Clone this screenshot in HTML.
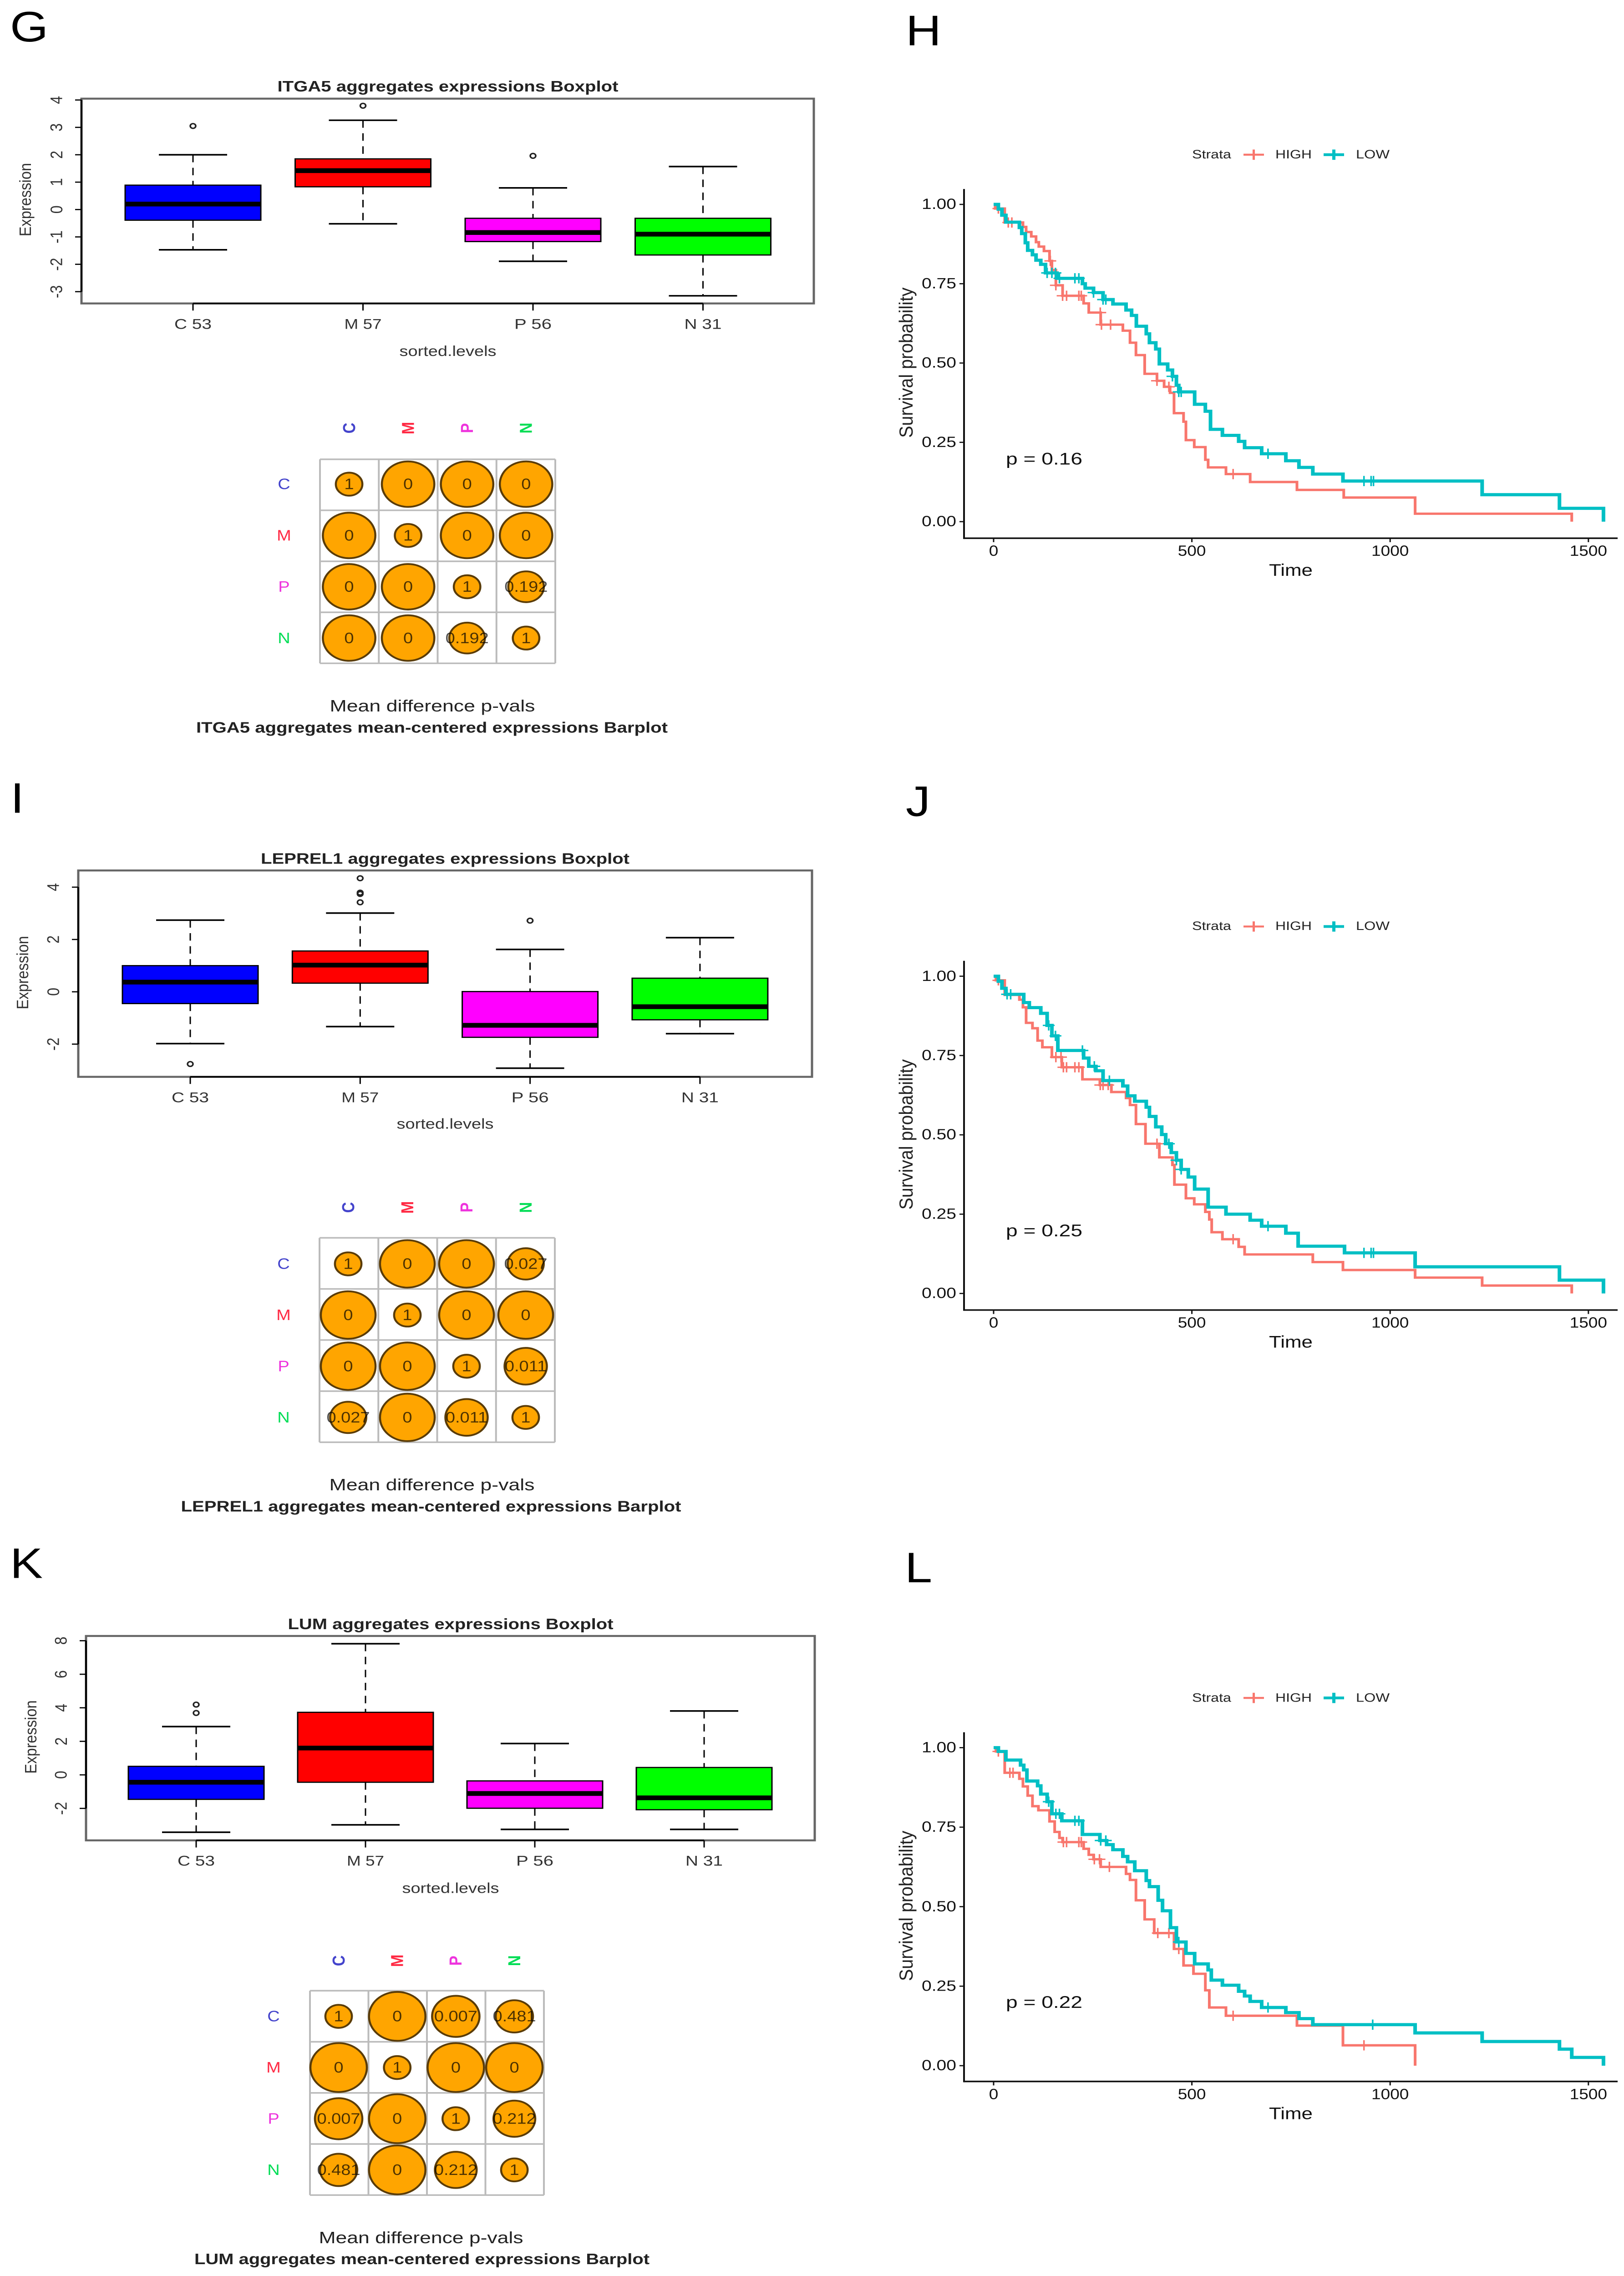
<!DOCTYPE html>
<html lang="en">
<head>
<meta charset="utf-8">
<title>Expression boxplots and survival curves</title>
<style>
html,body{margin:0;padding:0;background:#fff;width:100%;height:100%;overflow:hidden;}
svg{display:block;width:100vw;height:100vh;}
text{font-family:"Liberation Sans",sans-serif;dominant-baseline:central;}
.panel-letter{font-size:108px;fill:#000;dominant-baseline:auto;}
.box-title{font-size:38px;font-weight:bold;fill:#222;text-anchor:middle;}
.box-axis{font-size:36px;fill:#333;text-anchor:middle;}
.dot-sub{font-size:42px;fill:#222;text-anchor:middle;}
.dot-title{font-size:38px;font-weight:bold;fill:#222;text-anchor:middle;}
.km-axis{font-size:43px;fill:#111;text-anchor:middle;}
.km-y{font-size:42px;fill:#222;text-anchor:middle;}
.km-legend{font-size:31px;fill:#222;}
.km-p{font-size:43px;fill:#111;}
</style>
</head>
<body>
<svg id="figure" xmlns="http://www.w3.org/2000/svg" viewBox="0 0 3568 5768" preserveAspectRatio="none">
<rect x="0" y="0" width="3568" height="5768" fill="#fff"/>

<text class="panel-letter" x="22" y="105">G</text>
<text class="panel-letter" x="1990" y="115">H</text>
<text class="panel-letter" x="23" y="2060">I</text>
<text class="panel-letter" x="1990" y="2068">J</text>
<text class="panel-letter" x="22" y="3999">K</text>
<text class="panel-letter" x="1988" y="4010">L</text>

<g id="box-g">
  <text class="box-title" x="984" y="219" textLength="749" lengthAdjust="spacingAndGlyphs">ITGA5 aggregates expressions Boxplot</text>
  <text class="box-axis" x="984" y="891" textLength="213" lengthAdjust="spacingAndGlyphs">sorted.levels</text>
  <text class="box-axis" x="57" y="506" transform="rotate(-90 57 506)" textLength="186" lengthAdjust="spacingAndGlyphs">Expression</text>
</g>
<g id="dot-g">
  <text class="dot-sub" x="950" y="1789" textLength="451" lengthAdjust="spacingAndGlyphs">Mean difference p-vals</text>
  <text class="dot-title" x="949" y="1844" textLength="1036" lengthAdjust="spacingAndGlyphs">ITGA5 aggregates mean-centered expressions Barplot</text>
</g>

<g id="box-i">
  <text class="box-title" x="978" y="2176" textLength="810" lengthAdjust="spacingAndGlyphs">LEPREL1 aggregates expressions Boxplot</text>
  <text class="box-axis" x="978" y="2849" textLength="213" lengthAdjust="spacingAndGlyphs">sorted.levels</text>
  <text class="box-axis" x="51" y="2465" transform="rotate(-90 51 2465)" textLength="186" lengthAdjust="spacingAndGlyphs">Expression</text>
</g>
<g id="dot-i">
  <text class="dot-sub" x="949" y="3763" textLength="451" lengthAdjust="spacingAndGlyphs">Mean difference p-vals</text>
  <text class="dot-title" x="947" y="3818" textLength="1099" lengthAdjust="spacingAndGlyphs">LEPREL1 aggregates mean-centered expressions Barplot</text>
</g>

<g id="box-k">
  <text class="box-title" x="990" y="4116" textLength="715" lengthAdjust="spacingAndGlyphs">LUM aggregates expressions Boxplot</text>
  <text class="box-axis" x="990" y="4786" textLength="213" lengthAdjust="spacingAndGlyphs">sorted.levels</text>
  <text class="box-axis" x="69" y="4402" transform="rotate(-90 69 4402)" textLength="186" lengthAdjust="spacingAndGlyphs">Expression</text>
</g>
<g id="dot-k">
  <text class="dot-sub" x="925" y="5671" textLength="449" lengthAdjust="spacingAndGlyphs">Mean difference p-vals</text>
  <text class="dot-title" x="927" y="5725" textLength="1000" lengthAdjust="spacingAndGlyphs">LUM aggregates mean-centered expressions Barplot</text>
</g>

<g id="km-h">
  <text class="km-legend" x="2619" y="392" textLength="86" lengthAdjust="spacingAndGlyphs">Strata</text>
  <text class="km-legend" x="2802" y="392" textLength="80" lengthAdjust="spacingAndGlyphs">HIGH</text>
  <text class="km-legend" x="2979" y="392" textLength="74" lengthAdjust="spacingAndGlyphs">LOW</text>
  <text class="km-axis" x="2836" y="1445" textLength="96" lengthAdjust="spacingAndGlyphs">Time</text>
  <text class="km-y" x="1991" y="919" transform="rotate(-90 1991 919)" textLength="381" lengthAdjust="spacingAndGlyphs">Survival probability</text>
  <text class="km-p" x="2210" y="1163" textLength="168" lengthAdjust="spacingAndGlyphs">p = 0.16</text>
</g>
<g id="km-j" transform="translate(0 1956)">
  <text class="km-legend" x="2619" y="391" textLength="86" lengthAdjust="spacingAndGlyphs">Strata</text>
  <text class="km-legend" x="2802" y="391" textLength="80" lengthAdjust="spacingAndGlyphs">HIGH</text>
  <text class="km-legend" x="2979" y="391" textLength="74" lengthAdjust="spacingAndGlyphs">LOW</text>
  <text class="km-axis" x="2836" y="1445" textLength="96" lengthAdjust="spacingAndGlyphs">Time</text>
  <text class="km-y" x="1991" y="919" transform="rotate(-90 1991 919)" textLength="381" lengthAdjust="spacingAndGlyphs">Survival probability</text>
  <text class="km-p" x="2210" y="1163" textLength="168" lengthAdjust="spacingAndGlyphs">p = 0.25</text>
</g>
<g id="km-l" transform="translate(0 3911)">
  <text class="km-legend" x="2619" y="392" textLength="86" lengthAdjust="spacingAndGlyphs">Strata</text>
  <text class="km-legend" x="2802" y="392" textLength="80" lengthAdjust="spacingAndGlyphs">HIGH</text>
  <text class="km-legend" x="2979" y="392" textLength="74" lengthAdjust="spacingAndGlyphs">LOW</text>
  <text class="km-axis" x="2836" y="1445" textLength="96" lengthAdjust="spacingAndGlyphs">Time</text>
  <text class="km-y" x="1991" y="919" transform="rotate(-90 1991 919)" textLength="381" lengthAdjust="spacingAndGlyphs">Survival probability</text>
  <text class="km-p" x="2210" y="1163" textLength="168" lengthAdjust="spacingAndGlyphs">p = 0.22</text>
</g>
</svg>

<script>
/* ---------- boxplot data ---------- */
const boxCategories = ['C 53', 'M 57', 'P 56', 'N 31'];

const gTicks = [-3, -2, -1, 0, 1, 2, 3, 4];
const gWhiskerLow = [-1.47, -0.52, -1.89, -3.15];
const gQ1 = [-0.39, 0.83, -1.17, -1.66];
const gMedian = [0.20, 1.42, -0.84, -0.90];
const gQ3 = [0.89, 1.85, -0.32, -0.32];
const gWhiskerHigh = [2.00, 3.26, 0.79, 1.57];
const gOutliers = [[3.05], [3.79], [1.96], []];

const iTicks = [-2, 0, 2, 4];
const iWhiskerLow = [-1.98, -1.33, -2.92, -1.60];
const iQ1 = [-0.45, 0.33, -1.74, -1.07];
const iMedian = [0.37, 1.02, -1.28, -0.57];
const iQ3 = [1.00, 1.56, 0.01, 0.52];
const iWhiskerHigh = [2.74, 3.01, 1.62, 2.07];
const iOutliers = [[-2.76], [3.42, 3.74, 3.79, 4.34], [2.72], []];

const kTicks = [-2, 0, 2, 4, 6, 8];
const kWhiskerLow = [-3.42, -2.98, -3.25, -3.25];
const kQ1 = [-1.46, -0.44, -1.99, -2.08];
const kMedian = [-0.44, 1.60, -1.11, -1.37];
const kQ3 = [0.51, 3.73, -0.36, 0.44];
const kWhiskerHigh = [2.88, 7.82, 1.87, 3.81];
const kOutliers = [[3.69, 4.19], [], [], []];

/* ---------- p-value matrix data ---------- */
const matrixLabels = ['C', 'M', 'P', 'N'];

const gPvals = [['1','0','0','0'],['0','1','0','0'],['0','0','1','0.192'],['0','0','0.192','1']];
const gDotSize = [[0.47,0.93,0.93,0.93],[0.93,0.47,0.93,0.93],[0.93,0.93,0.47,0.63],[0.93,0.93,0.63,0.47]];

const iPvals = [['1','0','0','0.027'],['0','1','0','0'],['0','0','1','0.011'],['0.027','0','0.011','1']];
const iDotSize = [[0.47,0.97,0.97,0.64],[0.97,0.47,0.97,0.97],[0.97,0.97,0.47,0.75],[0.64,0.97,0.75,0.47]];

const kPvals = [['1','0','0.007','0.481'],['0','1','0','0'],['0.007','0','1','0.212'],['0.481','0','0.212','1']];
const kDotSize = [[0.47,1,0.84,0.66],[1,0.47,1,1],[0.84,1,0.47,0.74],[0.66,1,0.74,0.47]];

/* ---------- survival data ---------- */
const kmTimeTicks = [0, 500, 1000, 1500];
const kmSurvTicks = [0, 0.25, 0.5, 0.75, 1];
const kmSurvTickLabels = ['0.00', '0.25', '0.50', '0.75', '1.00'];

const hHighTime = [4,28,74,82,95,107,114,127,141,147,157,174,227,240,270,326,344,359,381,412,430,445,455,479,485,506,534,541,586,647,765,883,1063,1458];
const hHighSurv = [.987,.943,.929,.913,.899,.881,.867,.853,.822,.793,.745,.712,.688,.659,.621,.602,.564,.525,.466,.444,.425,.406,.342,.315,.257,.235,.195,.171,.150,.125,.100,.076,.025,0];
const hHighCensor = [12,37,46,143,157,174,184,215,221,269,272,295,412,442,604];
const hLowTime = [12,21,31,65,71,80,86,98,107,119,131,160,224,231,252,276,301,334,348,360,385,393,409,418,439,451,461,467,507,534,547,577,618,633,676,737,770,805,881,1232,1427,1538];
const hLowSurv = [.985,.966,.944,.927,.908,.879,.855,.841,.824,.811,.784,.767,.750,.736,.722,.700,.686,.667,.650,.616,.592,.564,.544,.497,.478,.458,.430,.409,.370,.348,.291,.272,.253,.233,.214,.192,.171,.150,.128,.085,.042,0];
const hLowCensor = [135,147,156,166,205,215,252,276,283,451,467,473,692,934,952,958];

const jHighTime = [6,28,65,74,82,98,111,123,147,172,224,268,297,334,344,359,383,418,451,456,485,506,534,544,550,577,618,633,805,881,1063,1232,1458];
const jHighSurv = [.987,.941,.926,.902,.853,.836,.797,.776,.745,.713,.675,.657,.635,.616,.594,.534,.472,.429,.405,.343,.300,.281,.257,.233,.193,.171,.147,.123,.099,.074,.050,.025,0];
const jHighCensor = [12,157,170,176,184,205,215,269,276,289,412,604];
const jLowTime = [12,21,31,76,90,119,135,147,162,227,240,258,276,326,338,356,385,393,409,424,434,448,461,473,491,507,541,586,647,676,737,768,885,1063,1427,1538];
const jLowSurv = [.984,.962,.943,.917,.901,.883,.845,.812,.766,.742,.716,.702,.671,.654,.623,.606,.587,.558,.525,.501,.472,.444,.420,.391,.367,.329,.272,.250,.231,.212,.190,.149,.128,.084,.042,0];
const jLowCensor = [34,43,139,156,224,254,292,442,461,473,692,934,952,958];

const lHighTime = [6,28,65,74,86,98,113,141,154,166,174,227,240,252,270,334,344,359,381,405,455,479,504,534,544,586,765,881,1063];
const lHighSurv = [.988,.921,.902,.878,.849,.816,.803,.768,.735,.716,.703,.682,.663,.649,.625,.603,.584,.520,.460,.417,.367,.315,.289,.237,.183,.157,.126,.064,0];
const lHighCensor = [12,41,49,176,184,215,221,254,267,292,414,442,467,604,934];
const lLowTime = [12,31,68,76,84,111,119,135,147,172,224,268,285,301,326,338,356,385,393,415,426,446,461,485,507,541,549,577,618,633,647,676,737,770,805,1063,1232,1427,1458,1538];
const lLowSurv = [.988,.961,.945,.930,.895,.880,.854,.830,.792,.770,.727,.708,.695,.679,.658,.641,.613,.582,.563,.520,.487,.434,.389,.353,.320,.301,.269,.253,.234,.219,.202,.183,.167,.148,.129,.103,.076,.052,.026,0];
const lLowCensor = [139,157,166,205,215,270,283,467,692,956];

/* ---------- drawing ---------- */
const NS = 'http://www.w3.org/2000/svg';
function mk(tag, attrs, parent) {
  const el = document.createElementNS(NS, tag);
  for (const k in attrs) el.setAttribute(k, attrs[k]);
  parent.appendChild(el);
  return el;
}

const boxFills = ['#0000ff', '#ff0000', '#ff00ff', '#00ff00'];

function drawBoxplot(groupId, frame, ticks, wl, q1, med, q3, wh, outliers) {
  const root = document.getElementById(groupId);
  const yS = v => frame.zero - v * frame.unit;
  const xS = i => frame.xStart + i * frame.xStep;
  const HALF = 149, CAP = 75;

  const fr = mk('rect', {x: frame.x0, y: frame.y0, width: frame.x1 - frame.x0, height: frame.y1 - frame.y0, fill: 'none', stroke: '#666', 'stroke-width': 5}, root);
  
  

  const yLine = mk('line', {x1: frame.x0, x2: frame.x0, y1: yS(ticks[0]), y2: yS(ticks[ticks.length - 1]), stroke: '#000', 'stroke-width': 4}, root);
  
  

  const xLine = mk('line', {x1: xS(0), x2: xS(boxCategories.length - 1), y1: frame.y1, y2: frame.y1, stroke: '#000', 'stroke-width': 4}, root);
  
  

  ticks.forEach(t => {
    const tk = mk('line', {x1: frame.x0 - 14, x2: frame.x0, y1: yS(t), y2: yS(t), stroke: '#000', 'stroke-width': 3}, root);
    
    
    const tl = mk('text', {x: frame.x0 - 54, y: yS(t), 'text-anchor': 'middle', 'font-size': 37, fill: '#333', transform: 'rotate(-90 ' + (frame.x0 - 54) + ' ' + yS(t) + ')'}, root);
    tl.textContent = String(t);
    
    
  });

  boxCategories.forEach((cat, i) => {
    const x = xS(i);
    const tk = mk('line', {x1: x, x2: x, y1: frame.y1, y2: frame.y1 + 18, stroke: '#000', 'stroke-width': 3}, root);
    
    
    const tl = mk('text', {x: x, y: frame.y1 + 53, 'text-anchor': 'middle', 'font-size': 36, fill: '#333', textLength: 82, lengthAdjust: 'spacingAndGlyphs'}, root);
    tl.textContent = cat;
    
    

    const whUp = mk('line', {x1: x, x2: x, y1: yS(wh[i]), y2: yS(q3[i]), stroke: '#000', 'stroke-width': 3, 'stroke-dasharray': '19 14'}, root);
    
    
    const whDn = mk('line', {x1: x, x2: x, y1: yS(q1[i]), y2: yS(wl[i]), stroke: '#000', 'stroke-width': 3, 'stroke-dasharray': '19 14'}, root);
    
    
    const capUp = mk('line', {x1: x - CAP, x2: x + CAP, y1: yS(wh[i]), y2: yS(wh[i]), stroke: '#000', 'stroke-width': 4}, root);
    
    
    const capDn = mk('line', {x1: x - CAP, x2: x + CAP, y1: yS(wl[i]), y2: yS(wl[i]), stroke: '#000', 'stroke-width': 4}, root);
    
    

    const box = mk('rect', {x: x - HALF, y: yS(q3[i]), width: 2 * HALF, height: yS(q1[i]) - yS(q3[i]), fill: boxFills[i], stroke: '#000', 'stroke-width': 3}, root);
    
    
    const md = mk('line', {x1: x - HALF, x2: x + HALF, y1: yS(med[i]), y2: yS(med[i]), stroke: '#000', 'stroke-width': 12}, root);
    
    

    outliers[i].forEach(v => {
      const o = mk('circle', {cx: x, cy: yS(v), r: 6, fill: 'none', stroke: '#222', 'stroke-width': 3.5}, root);
      
      
    });
  });
}

const labelColors = ['#4444cc', '#ff2a44', '#ee33dd', '#00dd55'];

function drawMatrix(groupId, m, pvals, sizes) {
  const root = document.getElementById(groupId);
  const xS = i => m.cx0 + i * m.cxStep;
  const yS = i => m.cy0 + i * m.cyStep;
  const rS = v => v * 62;
  const n = matrixLabels.length;

  for (let i = 0; i <= n; i++) {
    const gx = m.gx0 + i * (m.gx1 - m.gx0) / n;
    const gy = m.gy0 + i * (m.gy1 - m.gy0) / n;
    const v = mk('line', {x1: gx, x2: gx, y1: m.gy0, y2: m.gy1, stroke: '#bbb', 'stroke-width': 4}, root);
    
    
    const h = mk('line', {x1: m.gx0, x2: m.gx1, y1: gy, y2: gy, stroke: '#bbb', 'stroke-width': 4}, root);
    
    
  }

  matrixLabels.forEach((lab, i) => {
    const top = mk('text', {x: xS(i), y: m.topY, 'text-anchor': 'middle', 'font-size': 38, 'font-weight': 'bold', fill: labelColors[i], transform: 'rotate(-90 ' + xS(i) + ' ' + m.topY + ')'}, root);
    top.textContent = lab;
    
    
    const left = mk('text', {x: m.leftX, y: yS(i), 'text-anchor': 'middle', 'font-size': 38, fill: labelColors[i]}, root);
    left.textContent = lab;
    
    
  });

  pvals.forEach((row, r) => row.forEach((p, c) => {
    const dot = mk('circle', {cx: xS(c), cy: yS(r), r: rS(sizes[r][c]), fill: '#ffa500', stroke: '#5a3c08', 'stroke-width': 4.5}, root);
    
    
    const t = mk('text', {x: xS(c), y: yS(r), 'text-anchor': 'middle', 'font-size': 38, fill: '#000', 'fill-opacity': 0.7}, root);
    t.textContent = p;
    
    
  }));
}

function stepAt(times, surv, t) {
  let s = 1;
  for (let i = 0; i < times.length; i++) { if (times[i] <= t) s = surv[i]; }
  return s;
}

function drawKM(groupId, survUnit, hiT, hiS, hiC, loT, loS, loC) {
  const root = document.getElementById(groupId);
  const AX = {left: 2118, right: 3554, top: 479, bottom: 1364, x0: 2183, xUnit: 0.8712, yOne: 518};
  const xS = t => AX.x0 + t * AX.xUnit;
  const yS = s => AX.yOne + (1 - s) * survUnit;

  const yAxis = mk('line', {x1: AX.left, x2: AX.left, y1: AX.top, y2: AX.bottom + 2, stroke: '#111', 'stroke-width': 4}, root);
  
  
  const xAxis = mk('line', {x1: AX.left, x2: AX.right, y1: AX.bottom, y2: AX.bottom, stroke: '#111', 'stroke-width': 4}, root);
  
  

  kmSurvTicks.forEach((s, i) => {
    const tk = mk('line', {x1: AX.left - 10, x2: AX.left, y1: yS(s), y2: yS(s), stroke: '#111', 'stroke-width': 3}, root);
    
    
    const tl = mk('text', {x: AX.left - 17, y: yS(s), 'text-anchor': 'end', 'font-size': 37, fill: '#111', textLength: 76, lengthAdjust: 'spacingAndGlyphs'}, root);
    tl.textContent = kmSurvTickLabels[i];
    
    
  });
  kmTimeTicks.forEach(t => {
    const tk = mk('line', {x1: xS(t), x2: xS(t), y1: AX.bottom, y2: AX.bottom + 10, stroke: '#111', 'stroke-width': 3}, root);
    
    
    const tl = mk('text', {x: xS(t), y: AX.bottom + 33, 'text-anchor': 'middle', 'font-size': 37, fill: '#111'}, root);
    tl.textContent = String(t);
    
    
  });

  const curve = (times, surv, censor, color, width, name) => {
    let d = 'M' + xS(0) + ' ' + yS(1);
    times.forEach((t, i) => { d += 'H' + xS(t) + 'V' + yS(surv[i]); });
    const p = mk('path', {d: d, fill: 'none', stroke: color, 'stroke-width': width, 'stroke-linejoin': 'miter'}, root);
    
    
    censor.forEach(t => {
      const cy = yS(stepAt(times, surv, t));
      const cd = 'M' + (xS(t) - 13) + ' ' + cy + 'H' + (xS(t) + 13) + 'M' + xS(t) + ' ' + (cy - 13) + 'V' + (cy + 13);
      const c = mk('path', {d: cd, fill: 'none', stroke: color, 'stroke-width': 3.5}, root);
      
      
    });
  };
  curve(hiT, hiS, hiC, '#f8766d', 6, 'high');
  curve(loT, loS, loC, '#00bfc4', 8, 'low');

  const keyY = 392;
  const k1 = mk('path', {d: 'M2732 ' + keyY + 'H2777M2754.5 ' + (keyY - 13) + 'V' + (keyY + 13), fill: 'none', stroke: '#f8766d', 'stroke-width': 5}, root);
  
  
  const k2 = mk('path', {d: 'M2908 ' + keyY + 'H2953M2930.5 ' + (keyY - 13) + 'V' + (keyY + 13), fill: 'none', stroke: '#00bfc4', 'stroke-width': 7}, root);
  
  
}

drawBoxplot('box-g', {x0: 179, x1: 1788, y0: 250, y1: 769, zero: 531, unit: 69.4, xStart: 424, xStep: 373.5}, gTicks, gWhiskerLow, gQ1, gMedian, gQ3, gWhiskerHigh, gOutliers);
drawBoxplot('box-i', {x0: 172, x1: 1784, y0: 2206, y1: 2729, zero: 2513.5, unit: 66.3, xStart: 418, xStep: 373.3}, iTicks, iWhiskerLow, iQ1, iMedian, iQ3, iWhiskerHigh, iOutliers);
drawBoxplot('box-k', {x0: 189, x1: 1790, y0: 4146, y1: 4664, zero: 4498, unit: 42.5, xStart: 431, xStep: 372}, kTicks, kWhiskerLow, kQ1, kMedian, kQ3, kWhiskerHigh, kOutliers);

drawMatrix('dot-g', {cx0: 767, cxStep: 129.6, cy0: 1227, cyStep: 130, gx0: 703, gx1: 1220, gy0: 1164, gy1: 1681, topY: 1085, leftX: 624}, gPvals, gDotSize);
drawMatrix('dot-i', {cx0: 765, cxStep: 130, cy0: 3203, cyStep: 129.7, gx0: 702, gx1: 1219, gy0: 3137, gy1: 3655, topY: 3060, leftX: 623}, iPvals, iDotSize);
drawMatrix('dot-k', {cx0: 744, cxStep: 128.7, cy0: 5110, cyStep: 129.7, gx0: 681, gx1: 1195, gy0: 5045, gy1: 5563, topY: 4969, leftX: 601}, kPvals, kDotSize);

drawKM('km-h', 804, hHighTime, hHighSurv, hHighCensor, hLowTime, hLowSurv, hLowCensor);
drawKM('km-j', 804, jHighTime, jHighSurv, jHighCensor, jLowTime, jLowSurv, jLowCensor);
drawKM('km-l', 806, lHighTime, lHighSurv, lHighCensor, lLowTime, lLowSurv, lLowCensor);
</script>
</body>
</html>
